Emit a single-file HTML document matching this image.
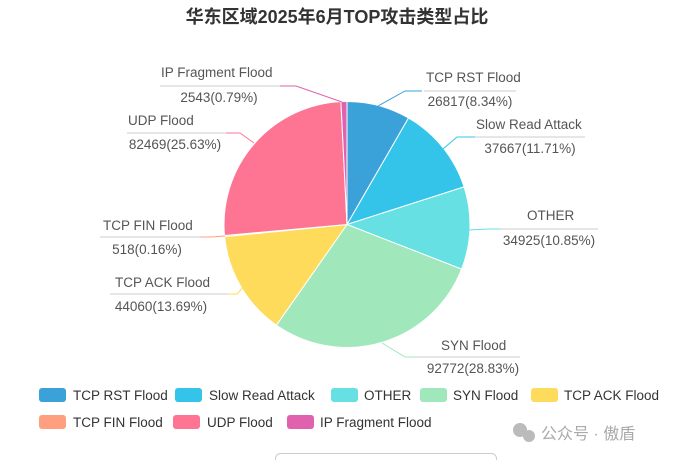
<!DOCTYPE html>
<html><head><meta charset="utf-8"><style>
body{margin:0;background:#fff;}
svg{display:block;font-family:"Liberation Sans","Noto Sans CJK SC",sans-serif;}
</style></head><body>
<svg width="675" height="460" viewBox="0 0 675 460">
<text x="337" y="23" text-anchor="middle" font-size="18" font-weight="bold" fill="#333">华东区域2025年6月TOP攻击类型占比</text>
<g stroke="#fff" stroke-width="1">
<path d="M347,224.5 L347,101.5 A123,123 0 0 1 408.5,118 Z" fill="#3ba1d9"/>
<path d="M347,224.5 L408.5,118 A123,123 0 0 1 464.1,186.9 Z" fill="#35c4e9"/>
<path d="M347,224.5 L464.1,186.9 A123,123 0 0 1 461.6,269.1 Z" fill="#66e0e3"/>
<path d="M347,224.5 L461.6,269.1 A123,123 0 0 1 276.4,325.2 Z" fill="#a0e7bb"/>
<path d="M347,224.5 L276.4,325.2 A123,123 0 0 1 224.6,236.7 Z" fill="#ffdb5c"/>
<path d="M347,224.5 L224.6,236.7 A123,123 0 0 1 224.5,235.5 Z" fill="#ff9f7f"/>
<path d="M347,224.5 L224.5,235.5 A123,123 0 0 1 340.9,101.6 Z" fill="#fe7594"/>
<path d="M347,224.5 L340.9,101.6 A123,123 0 0 1 347,101.5 Z" fill="#e062ae"/>
</g>
<g fill="none" stroke-width="1">
<polyline points="378,106 405,91 422,91" stroke="#3ba1d9"/>
<polyline points="443,149 457,137 475,137" stroke="#35c4e9"/>
<polyline points="467,230 490,229 500,229" stroke="#66e0e3"/>
<polyline points="382,343 405,357 415,357" stroke="#a0e7bb"/>
<polyline points="247,283 237,294 228,294" stroke="#ffdb5c"/>
<polyline points="225,236 212,237 200,237" stroke="#ff9f7f"/>
<polyline points="254,143 240,133 226,133" stroke="#fe7594"/>
<polyline points="342,102 296,86 280,86" stroke="#e062ae"/>
</g>
<g stroke="#ccc" stroke-width="1">
<line x1="424" y1="91" x2="516" y2="91"/>
<line x1="475" y1="137" x2="585" y2="137"/>
<line x1="500" y1="229" x2="598" y2="229"/>
<line x1="415" y1="357" x2="520" y2="357"/>
<line x1="110" y1="294" x2="228" y2="294"/>
<line x1="100" y1="237" x2="200" y2="237"/>
<line x1="127" y1="133" x2="226" y2="133"/>
<line x1="160" y1="86" x2="280" y2="86"/>
</g>
<g font-size="13.5" fill="#555">
<text x="426" y="82">TCP RST Flood</text><text x="470" y="106" text-anchor="middle">26817(8.34%)</text>
<text x="476" y="129">Slow Read Attack</text><text x="530" y="153" text-anchor="middle">37667(11.71%)</text>
<text x="527" y="220">OTHER</text><text x="549" y="245" text-anchor="middle">34925(10.85%)</text>
<text x="441" y="350">SYN Flood</text><text x="473" y="373" text-anchor="middle">92772(28.83%)</text>
<text x="115" y="287">TCP ACK Flood</text><text x="161" y="311" text-anchor="middle">44060(13.69%)</text>
<text x="103" y="230">TCP FIN Flood</text><text x="147" y="254" text-anchor="middle">518(0.16%)</text>
<text x="128" y="125">UDP Flood</text><text x="175" y="149" text-anchor="middle">82469(25.63%)</text>
<text x="161" y="77">IP Fragment Flood</text><text x="219" y="102" text-anchor="middle">2543(0.79%)</text>
</g>
<g font-size="13.5" fill="#333">
<rect x="39" y="388" width="27" height="14" rx="3" fill="#3ba1d9"/><text x="73" y="400">TCP RST Flood</text>
<rect x="175" y="388" width="27" height="14" rx="3" fill="#35c4e9"/><text x="209" y="400">Slow Read Attack</text>
<rect x="331" y="388" width="27" height="14" rx="3" fill="#66e0e3"/><text x="364" y="400">OTHER</text>
<rect x="420" y="388" width="27" height="14" rx="3" fill="#a0e7bb"/><text x="453" y="400">SYN Flood</text>
<rect x="531" y="388" width="27" height="14" rx="3" fill="#ffdb5c"/><text x="564" y="400">TCP ACK Flood</text>
<rect x="39" y="415" width="27" height="14" rx="3" fill="#ff9f7f"/><text x="73" y="427">TCP FIN Flood</text>
<rect x="173" y="415" width="27" height="14" rx="3" fill="#fe7594"/><text x="207" y="427">UDP Flood</text>
<rect x="287" y="415" width="27" height="14" rx="3" fill="#e062ae"/><text x="320" y="427">IP Fragment Flood</text>
</g>
<circle cx="520" cy="430" r="7" fill="#bbb"/><circle cx="529" cy="436" r="6" fill="#bbb"/>
<text x="541" y="439" font-size="16" fill="#aaa">公众号 · 傲盾</text>
<rect x="275.5" y="453.5" width="221" height="20" rx="5" fill="#fff" stroke="#ccc"/>
</svg>
</body></html>
